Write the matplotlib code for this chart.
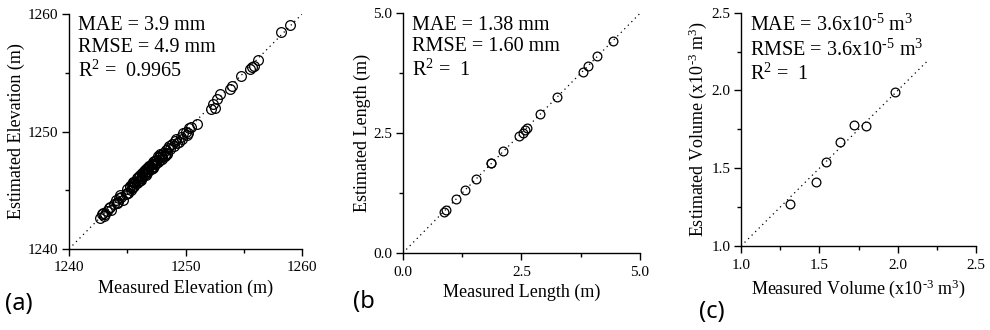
import numpy as np
import matplotlib.pyplot as plt
from matplotlib.ticker import MultipleLocator

# (a) elevation, m
meas_elev = [1242.7, 1242.8, 1243.0, 1242.9, 1243.3, 1243.5, 1243.6, 1243.9, 1244.0, 1244.1,
             1244.2, 1244.3, 1244.5, 1244.6, 1244.9, 1245.0, 1245.1, 1245.2, 1245.3, 1245.4,
             1245.5, 1245.6, 1245.6, 1245.7, 1245.8, 1245.9, 1246.0, 1246.0, 1246.1, 1246.2,
             1246.3, 1246.3, 1246.4, 1246.5, 1246.5, 1246.6, 1246.7, 1246.8, 1246.8, 1246.9,
             1247.0, 1247.1, 1247.1, 1247.2, 1247.3, 1247.4, 1247.5, 1247.5, 1247.6, 1247.7,
             1247.8, 1247.9, 1248.0, 1248.1, 1248.2, 1248.3, 1248.4, 1248.5, 1248.7, 1248.8,
             1249.0, 1249.2, 1249.4, 1249.6, 1249.8, 1250.0, 1250.1, 1250.3, 1250.5, 1251.0,
             1245.2, 1245.8, 1246.4, 1247.0, 1247.6, 1248.2, 1246.1, 1246.9, 1247.4, 1245.4,
             1245.0, 1245.5, 1246.2, 1246.7, 1247.2, 1247.8, 1248.4, 1249.1, 1249.7, 1244.4,
             1243.4, 1244.1, 1245.9, 1246.6, 1247.3, 1248.0, 1248.6, 1250.2, 1249.3, 1243.1,
             1252.2, 1252.4, 1252.5, 1252.7, 1253.0, 1253.8, 1254.0, 1254.8, 1255.5, 1255.7,
             1255.9, 1256.2, 1258.2, 1259.0]
est_elev = [1242.6, 1243.0, 1242.8, 1243.1, 1243.2, 1243.6, 1243.3, 1243.8, 1244.2, 1243.9,
            1244.0, 1244.3, 1244.4, 1244.2, 1244.7, 1245.1, 1244.8, 1245.3, 1245.0, 1245.5,
            1245.3, 1245.7, 1245.4, 1245.6, 1246.0, 1245.7, 1246.1, 1245.8, 1246.3, 1246.0,
            1246.2, 1246.5, 1246.3, 1246.7, 1246.4, 1246.8, 1246.5, 1246.9, 1246.6, 1247.1,
            1246.8, 1247.2, 1246.9, 1247.4, 1247.1, 1247.5, 1247.3, 1247.6, 1247.4, 1247.8,
            1247.6, 1248.0, 1247.8, 1248.2, 1247.9, 1248.4, 1248.2, 1248.6, 1248.5, 1248.9,
            1248.8, 1249.4, 1249.1, 1249.5, 1249.9, 1250.0, 1249.7, 1250.3, 1250.4, 1250.6,
            1245.4, 1245.6, 1246.6, 1246.8, 1247.9, 1248.0, 1245.9, 1247.1, 1247.2, 1245.2,
            1244.8, 1245.7, 1245.9, 1246.9, 1246.9, 1248.1, 1248.1, 1249.2, 1249.4, 1244.6,
            1243.5, 1243.9, 1246.1, 1246.3, 1247.5, 1247.7, 1248.8, 1249.9, 1249.0, 1243.0,
            1251.9, 1252.3, 1252.0, 1252.8, 1253.2, 1253.6, 1253.9, 1254.7, 1255.3, 1255.5,
            1255.6, 1256.1, 1258.5, 1259.1]

# (b) length, m
meas_len = [0.86, 0.91, 1.12, 1.31, 1.55, 1.85, 1.86, 2.12, 2.46, 2.53, 2.58, 2.61,
            2.89, 3.24, 3.79, 3.90, 4.09, 4.42]
est_len = [0.85, 0.90, 1.13, 1.32, 1.55, 1.87, 1.88, 2.13, 2.44, 2.51, 2.57, 2.60,
           2.90, 3.26, 3.77, 3.91, 4.10, 4.42]

# (c) volume, x1e-3 m3
meas_vol = [1.31, 1.48, 1.54, 1.63, 1.72, 1.80, 1.98]
est_vol = [1.27, 1.41, 1.54, 1.67, 1.78, 1.77, 1.99]

serif = ['Liberation Serif', 'DejaVu Serif']
sans = ['Noto Sans', 'DejaVu Sans']

panels = [
    dict(rect=[0.0697, 0.2455, 0.2354, 0.712], x=meas_elev, y=est_elev,
         lim=(1240, 1260), major=10, minor=5, fmt='{:.0f}', ms=7, line=(1240, 1260),
         xlabel='Measured Elevation (m)', ylabel='Estimated Elevation (m)',
         stats=['MAE = 3.9 mm', 'RMSE = 4.9 mm', r'R$^2$ =  0.9965'],
         tag='(a)', tagpos=(0.005, 0.06)),
    dict(rect=[0.4068, 0.2333, 0.2397, 0.7264], x=meas_len, y=est_len,
         lim=(0, 5), major=2.5, minor=1.25, fmt='{:.1f}', ms=6.3, line=(0, 5),
         xlabel='Measured Length (m)', ylabel='Estimated Length (m)',
         stats=['MAE = 1.38 mm', 'RMSE = 1.60 mm', r'R$^2$ =  1'],
         tag='(b', tagpos=(0.357, 0.067)),
    dict(rect=[0.7485, 0.2545, 0.2374, 0.707], x=meas_vol, y=est_vol,
         lim=(1, 2.5), major=0.5, minor=0.25, fmt='{:.1f}', ms=6.3, line=(1, 2.2),
         xlabel=r'Measured Volume (x10$^{\text{-3}}$ m$^3$)',
         ylabel=r'Estimated Volume (x10$^{\text{-3}}$ m$^3$)',
         stats=[r'MAE = 3.6x10$^{\text{-5}}$ m$^3$', r'RMSE = 3.6x10$^{\text{-5}}$ m$^3$',
                r'R$^2$ =  1'],
         tag='(c)', tagpos=(0.706, 0.036)),
]

plt.rcParams['mathtext.fontset'] = 'custom'
plt.rcParams['mathtext.rm'] = 'Liberation Serif'
plt.rcParams['mathtext.it'] = 'Liberation Serif:italic'

fig = plt.figure(figsize=(9.9, 3.3), dpi=100)

for p in panels:
    ax = fig.add_axes(p['rect'])
    ax.plot(p['line'], p['line'], ls=(0, (1, 3)), color='black', lw=0.9)
    ax.plot(p['x'], p['y'], 'o', mfc='none', mec='black', mew=0.9, ms=p['ms'])
    ax.set_xlim(*p['lim'])
    ax.set_ylim(*p['lim'])
    for axis in (ax.xaxis, ax.yaxis):
        axis.set_major_locator(MultipleLocator(p['major']))
        axis.set_minor_locator(MultipleLocator(p['minor']))
    ticks = np.arange(p['lim'][0], p['lim'][1] + 1e-9, p['major'])
    labels = [p['fmt'].format(t) for t in ticks]
    ax.set_xticks(ticks)
    ax.set_xticklabels(labels, family=serif, fontsize=11)
    ax.set_yticks(ticks)
    ax.set_yticklabels(labels, family=serif, fontsize=11)
    ax.tick_params(which='major', direction='out', length=5, width=1, pad=2.5)
    ax.tick_params(axis='x', which='major', pad=4)
    ax.tick_params(which='minor', direction='out', length=3, width=1)
    for s in ('top', 'right'):
        ax.spines[s].set_visible(False)
    for s in ('left', 'bottom'):
        ax.spines[s].set_linewidth(1)
    ax.set_xlabel(p['xlabel'], family=serif, fontsize=13, labelpad=4)
    ax.set_ylabel(p['ylabel'], family=serif, fontsize=13, labelpad=2)
    ax.text(0.04, 0.99, '\n'.join(p['stats']), transform=ax.transAxes,
            va='top', ha='left', family=serif, fontsize=14.5, linespacing=1.2)
    fig.text(p['tagpos'][0], p['tagpos'][1], p['tag'], family=sans, fontsize=17)

fig.savefig('out.png', dpi=100)
